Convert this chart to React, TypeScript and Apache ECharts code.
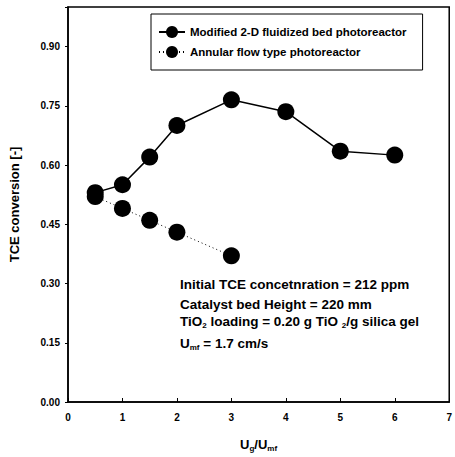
import React, { useEffect, useRef } from "react";
import * as echarts from "echarts";

const xFluidized = [0.5, 1, 1.5, 2, 3, 4, 5, 6];
const yFluidized = [0.53, 0.55, 0.62, 0.70, 0.765, 0.735, 0.635, 0.625];
const xAnnular = [0.5, 1, 1.5, 2, 3];
const yAnnular = [0.52, 0.49, 0.46, 0.43, 0.37];
const seriesNames = ["Modified 2-D fluidized bed photoreactor", "Annular flow type photoreactor"];
const xTicks = [0, 1, 2, 3, 4, 5, 6, 7];
const yTicks = [0, 0.15, 0.3, 0.45, 0.6, 0.75, 0.9];

const FONT = "Liberation Sans";

export default function App() {
  const ref = useRef<HTMLDivElement>(null);
  useEffect(() => {
    if (!ref.current) return;
    const chart = echarts.init(ref.current, undefined, { renderer: "svg" });
    const pair = (xs: number[], ys: number[]) => xs.map((x, i) => [x, ys[i]]);
    chart.setOption({
      animation: false,
      backgroundColor: "#fff",
      grid: {
        left: 66,
        right: 3,
        top: 7,
        bottom: 53,
        show: true,
        borderColor: "#000",
        borderWidth: 1.5,
      },
      xAxis: {
        type: "value",
        min: 0,
        max: 7,
        interval: 1,
        axisLine: { show: true, lineStyle: { color: "#000", width: 1.5 } },
        axisTick: { show: true, inside: true, length: 4, lineStyle: { color: "#000" } },
        splitLine: { show: false },
        axisLabel: {
          color: "#000",
          fontFamily: FONT,
          fontWeight: "bold",
          fontSize: 10,
          margin: 10,
          formatter: (v: number) => (xTicks.includes(v) ? String(v) : ""),
        },
        name: "{u|U}{s|g}{u|/U}{s|mf}",
        nameLocation: "middle",
        nameGap: 35,
        nameTextStyle: {
          rich: {
            u: { fontFamily: FONT, fontWeight: "bold", fontSize: 13, color: "#000" },
            s: { fontFamily: FONT, fontWeight: "bold", fontSize: 8, color: "#000", verticalAlign: "bottom", padding: [7, 0, 0, 0] },
          },
        },
      },
      yAxis: {
        type: "value",
        min: 0,
        max: 1.0,
        interval: 0.15,
        axisLine: { show: true, lineStyle: { color: "#000", width: 1.5 } },
        axisTick: { show: true, inside: false, length: 3, lineStyle: { color: "#000" } },
        splitLine: { show: false },
        axisLabel: {
          color: "#000",
          fontFamily: FONT,
          fontWeight: "bold",
          fontSize: 10,
          margin: 8,
          formatter: (v: number) => {
            const t = yTicks.find((y) => Math.abs(y - v) < 1e-6);
            return t === undefined ? "" : t.toFixed(2);
          },
        },
        name: "TCE conversion [-]",
        nameLocation: "middle",
        nameGap: 47,
        nameTextStyle: { fontFamily: FONT, fontWeight: "bold", fontSize: 13, color: "#000" },
      },
      legend: {
        orient: "vertical",
        left: 151,
        top: 14,
        borderColor: "#000",
        borderWidth: 1,
        borderRadius: 0,
        padding: [12, 16, 12, 7],
        itemWidth: 26,
        itemHeight: 15,
        itemGap: 8,
        textStyle: { fontFamily: FONT, fontWeight: "bold", fontSize: 11.5, color: "#000" },
        data: seriesNames,
      },
      series: [
        {
          name: seriesNames[0],
          type: "line",
          data: pair(xFluidized, yFluidized),
          symbol: "circle",
          symbolSize: 17,
          itemStyle: { color: "#000" },
          lineStyle: { color: "#000", width: 1.5, type: "solid" },
          z: 3,
        },
        {
          name: seriesNames[1],
          type: "line",
          data: pair(xAnnular, yAnnular),
          symbol: "circle",
          symbolSize: 17,
          itemStyle: { color: "#000" },
          lineStyle: { color: "#000", width: 1, type: [1, 3] },
          z: 2,
        },
      ],
      graphic: [
        {
          type: "text",
          left: 180,
          top: 274,
          style: {
            text: "Initial TCE concetnration = 212 ppm\nCatalyst bed Height = 220 mm",
            fontFamily: FONT,
            fontWeight: "bold",
            fontSize: 13.5,
            lineHeight: 20,
            fill: "#000",
          },
        },
        {
          type: "text",
          left: 180,
          top: 314,
          style: {
            text: "{n|TiO}{s|2}{n| loading = 0.20 g TiO }{s|2}{n|/g silica gel}",
            rich: {
              n: { fontFamily: FONT, fontWeight: "bold", fontSize: 13.5, fill: "#000" },
              s: { fontFamily: FONT, fontWeight: "bold", fontSize: 8, fill: "#000", padding: [8, 0, 0, 0] },
            },
          },
        },
        {
          type: "text",
          left: 180,
          top: 336,
          style: {
            text: "{n|U}{s|mf}{n| = 1.7 cm/s}",
            rich: {
              n: { fontFamily: FONT, fontWeight: "bold", fontSize: 13.5, fill: "#000" },
              s: { fontFamily: FONT, fontWeight: "bold", fontSize: 8, fill: "#000", padding: [8, 0, 0, 0] },
            },
          },
        },
      ],
    });
    return () => chart.dispose();
  }, []);
  return (
    <div
      ref={ref}
      style={{ position: "fixed", left: 0, top: 0, width: 455, height: 457, background: "#fff" }}
    />
  );
}
